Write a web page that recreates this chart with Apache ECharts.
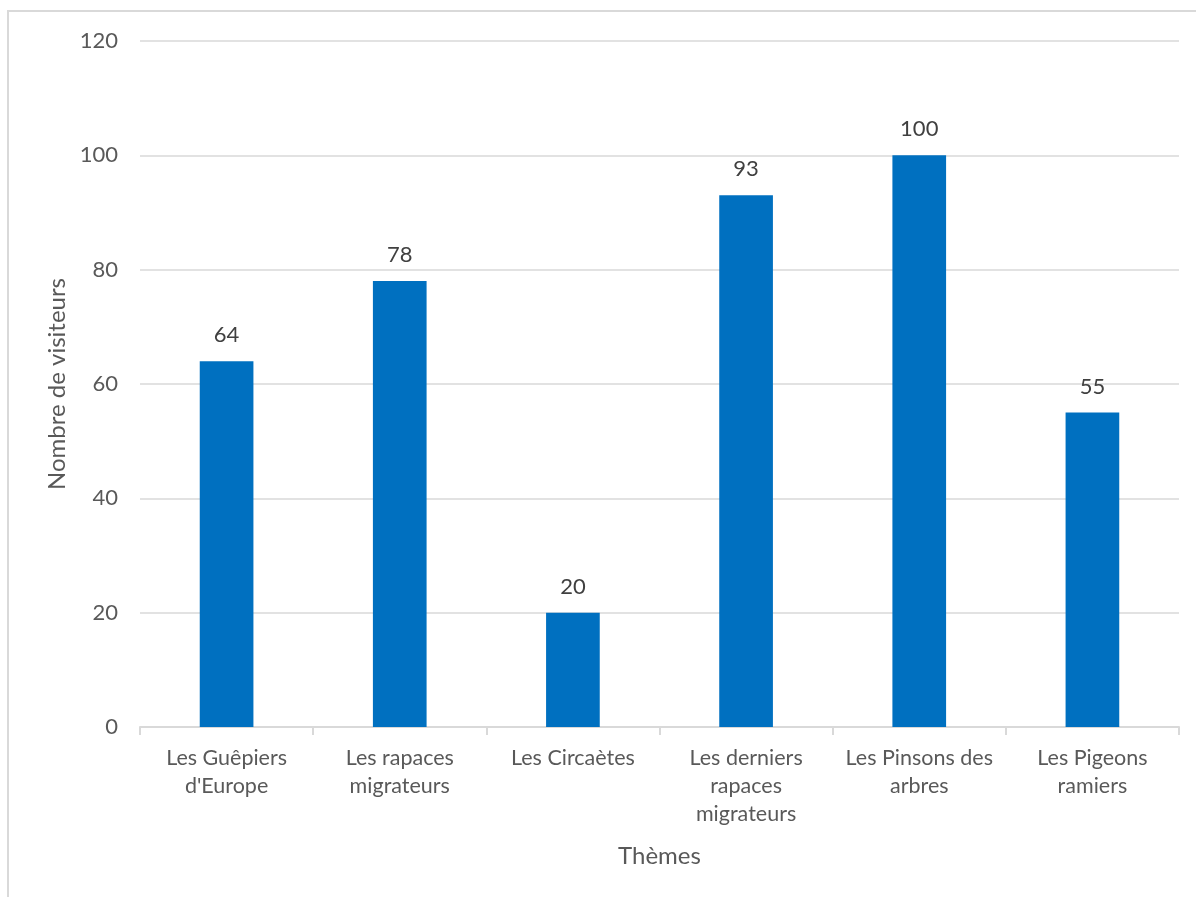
<!DOCTYPE html>
<html><head><meta charset="utf-8">
<script src="https://cdn.jsdelivr.net/npm/echarts@6/dist/echarts.min.js"></script>
<style>
html,body{margin:0;padding:0;background:#fff;}
#c{position:absolute;left:0;top:0;width:1196px;height:897px;}
#b{position:absolute;left:7px;top:10px;width:1300px;height:1000px;border:2px solid #d9d9d9;pointer-events:none;}
</style></head>
<body>
<div id="b"></div>
<div id="c"></div>
<script>
const categories = ["Les Guêpiers\nd'Europe", "Les rapaces\nmigrateurs", "Les Circaètes", "Les derniers\nrapaces\nmigrateurs", "Les Pinsons des\narbres", "Les Pigeons\nramiers"];
const visitors = [64, 78, 20, 93, 100, 55];
const yTicks = { min: 0, max: 120, interval: 20 };
const xTitle = "Thèmes";
const yTitle = "Nombre de visiteurs";

const chart = echarts.init(document.getElementById('c'), null, {renderer: 'canvas'});
const font = 'Lato, "Open Sans", sans-serif';
chart.setOption({
  animation: false,
  backgroundColor: 'transparent',
  grid: { left: 140, right: 17, top: 41, bottom: 170, containLabel: false },
  xAxis: {
    type: 'category',
    data: categories,
    name: xTitle,
    nameLocation: 'middle',
    nameGap: 117,
    nameTextStyle: { color: '#595959', fontSize: 24, fontFamily: font },
    axisLine: { lineStyle: { color: '#d9d9d9', width: 2 } },
    axisTick: { show: true, length: 8, lineStyle: { color: '#d9d9d9', width: 2 } },
    axisLabel: { color: '#595959', fontSize: 21.5, fontFamily: font, margin: 17, lineHeight: 28, interval: 0 }
  },
  yAxis: {
    type: 'value',
    min: yTicks.min, max: yTicks.max, interval: yTicks.interval,
    name: yTitle,
    nameLocation: 'middle',
    nameGap: 68,
    nameTextStyle: { color: '#595959', fontSize: 24, fontFamily: font },
    axisLine: { show: false },
    axisTick: { show: false },
    axisLabel: { color: '#595959', fontSize: 22, fontFamily: font, margin: 22 },
    splitLine: { lineStyle: { color: '#d9d9d9', width: 1.5 } }
  },
  series: [{
    type: 'bar',
    data: visitors,
    barWidth: '31%',
    itemStyle: { color: '#0070c0' },
    label: { show: true, position: 'top', distance: 15, color: '#404040', fontSize: 22, fontFamily: font }
  }]
});
</script>
</body></html>
